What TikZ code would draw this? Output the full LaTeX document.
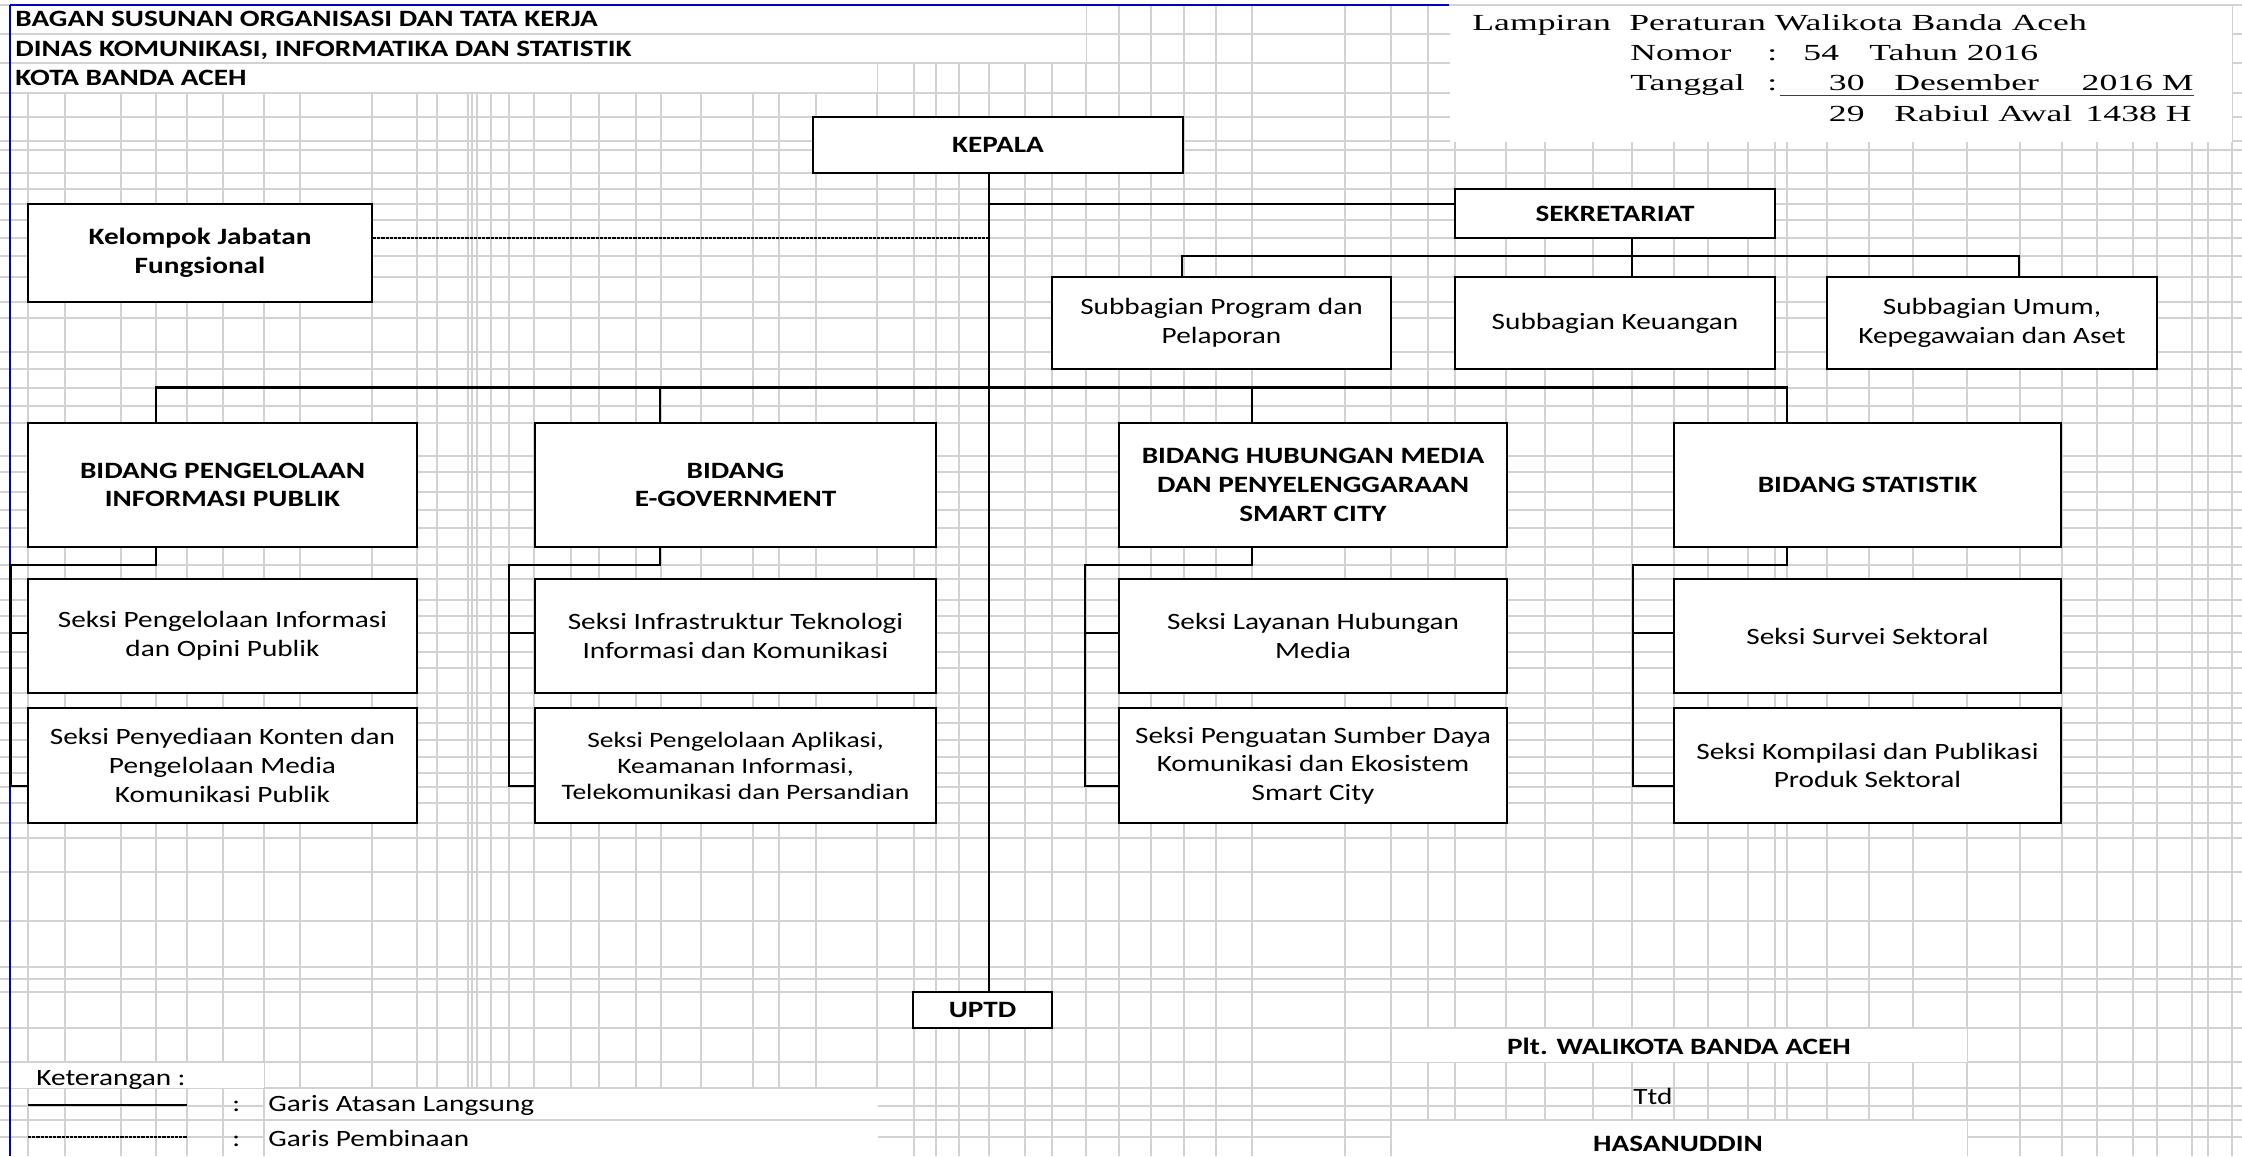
\documentclass[tikz,border=0pt]{standalone}
\usepackage{fontspec}
\setmainfont{Carlito}[FakeStretch=1.25]
\newfontfamily\lampfont{Liberation Serif}[FakeStretch=1.55]
\begin{document}
\begin{tikzpicture}[x=0.5pt,y=-0.5pt,
  every node/.style={font=\fontsize{11.7pt}{14.3pt}\selectfont, inner sep=0pt},
  gridl/.style={gray!35, line width=0.6pt},
  box/.style={draw, fill=white, line width=0.9pt, align=center},
  conn/.style={line width=1.4pt},
  guide/.style={line width=0.8pt, dash pattern=on 1.6pt off 0.5pt},
  lamp/.style={font=\lampfont\fontsize{11.5pt}{14pt}\selectfont, anchor=base west},
  ttl/.style={font=\bfseries\fontsize{11.7pt}{14.3pt}\selectfont, anchor=base west},
  small/.style={font=\fontsize{11pt}{13pt}\selectfont}
]
\useasboundingbox (0,0) rectangle (2242,1156);
\fill[white] (0,0) rectangle (2242,1156);
% ---- spreadsheet grid: columns
\foreach \x in {28,65,121,156,187,223,264,300,372,417,437,468,472,477,491,509,534,571,599,636,661,701,753,779,816,877,914,936,959,989,1025,1052,1086,1119,1151,1184,1216,1252,1345,1391,1428,1455,1506,1545,1593,1632,1674,1708,1748,1775,1787,1827,1869,1913,1967,2020,2062,2097,2133,2157,2192,2208,2232}
  \draw[gridl] (\x,5) -- (\x,1156);
% title cells (no column lines)
\fill[white] (11,6) rectangle (1085.5,62.5);
\fill[white] (11,62.5) rectangle (876.5,92.5);
% rows
\foreach \y in {5,34,63,93,117,141,150,173,189,204,220,238,256,277,302,318,352,369,388,406,423,456,472,492,510,528,547,565,579,600,616,633,652,668,693,708,723,740,757,773,787,803,823,838,872,921,967,979,992,1028,1062,1088,1106,1120,1137}
  \draw[gridl] (0,\y) -- (2242,\y);
% white cells
\fill[white] (1450,6) rectangle (2231.5,141.5);
\fill[white] (11,1062.5) rectangle (263.5,1087.5);
\fill[white] (264.5,1088.5) rectangle (877.5,1156);
\draw[gridl] (264,1120) -- (878,1120);
\fill[white] (1391.5,1028.5) rectangle (1966.5,1061.5);
\fill[white] (1391.5,1120.5) rectangle (1966.5,1156);
% sheet border
\draw[blue!75!black, line width=1pt] (10,5) -- (1449,5);
\draw[blue!75!black, line width=1pt] (10,5) -- (10,1156);

% ---- header texts
\node[ttl] (t1) at (15,26.7) {BAGAN SUSUNAN ORGANISASI DAN TATA KERJA};
\node[ttl] (t2) at (15,56.7) {DINAS KOMUNIKASI, INFORMATIKA DAN STATISTIK};
\node[ttl] (t3) at (15,86) {KOTA BANDA ACEH};

\node[lamp] (l1a) at (1472,30.7) {Lampiran};
\node[lamp] (l1b) at (1629,30.7) {Peraturan Walikota Banda Aceh};
\node[lamp] (l2a) at (1630,60.7) {Nomor};
\node[lamp] (l2b) at (1767,60.7) {:};
\node[lamp] (l2c) at (1803,60.7) {54};
\node[lamp] (l2d) at (1869,60.7) {Tahun 2016};
\node[lamp] (l3a) at (1630,90.7) {Tanggal};
\node[lamp] (l3b) at (1767,90.7) {:};
\node[lamp, anchor=base east] (l3c) at (1865,90.7) {30};
\node[lamp] (l3d) at (1894,90.7) {Desember};
\node[lamp, anchor=base east] (l3e) at (2194,90.7) {2016 M};
\node[lamp, anchor=base east] (l4a) at (1865,121.7) {29};
\node[lamp] (l4b) at (1894,121.7) {Rabiul Awal};
\node[lamp, anchor=base east] (l4c) at (2192,121.7) {1438 H};
\coordinate (ul1) at (1780,95.7);
\coordinate (ul2) at (2194,95.7);
\draw[line width=0.8pt, black!75] (ul1) -- (ul2);

% ---- boxes
\node[box, line width=1.3pt, minimum width=185pt, minimum height=28pt, font=\bfseries\fontsize{11.7pt}{14.3pt}\selectfont] (kepala) at (998,145) {KEPALA};
\node[box, minimum width=172pt, minimum height=49pt, font=\bfseries\fontsize{11.7pt}{14.3pt}\selectfont] (kel) at (200,253) {Kelompok Jabatan\\Fungsional};
\node[box, minimum width=160pt, minimum height=24.5pt, font=\bfseries\fontsize{11.7pt}{14.3pt}\selectfont] (sekre) at (1615,213.5) {SEKRETARIAT};
\node[box, minimum width=169.5pt, minimum height=46pt] (prog) at (1221.5,323) {Subbagian Program dan\\Pelaporan};
\node[box, minimum width=160pt, minimum height=46pt] (keu) at (1615,323) {Subbagian Keuangan};
\node[box, minimum width=165pt, minimum height=46pt] (umum) at (1992,323) {Subbagian Umum,\\Kepegawaian dan Aset};

\node[box, minimum width=194.5pt, minimum height=62pt, font=\bfseries\fontsize{11.7pt}{14.3pt}\selectfont] (peng) at (222.5,485) {BIDANG PENGELOLAAN\\INFORMASI PUBLIK};
\node[box, minimum width=200.5pt, minimum height=62pt, font=\bfseries\fontsize{11.7pt}{14.3pt}\selectfont] (egov) at (735.5,485) {BIDANG\\E-GOVERNMENT};
\node[box, minimum width=194pt, minimum height=62pt, font=\bfseries\fontsize{11.7pt}{14.3pt}\selectfont] (hub) at (1313,485) {BIDANG HUBUNGAN MEDIA\\DAN PENYELENGGARAAN\\SMART CITY};
\node[box, minimum width=193.5pt, minimum height=62pt, font=\bfseries\fontsize{11.7pt}{14.3pt}\selectfont] (stat) at (1867.5,485) {BIDANG STATISTIK};

\node[box, minimum width=194.5pt, minimum height=57pt] (s11) at (222.5,636) {Seksi Pengelolaan Informasi\\dan Opini Publik};
\node[box, minimum width=194.5pt, minimum height=57.5pt] (s12) at (222.5,765.5) {Seksi Penyediaan Konten dan\\Pengelolaan Media\\Komunikasi Publik};
\node[box, minimum width=200.5pt, minimum height=57pt] (s21) at (735.5,636) {Seksi Infrastruktur Teknologi\\Informasi dan Komunikasi};
\node[box, small, minimum width=200.5pt, minimum height=57.5pt] (s22) at (735.5,765.5) {Seksi Pengelolaan Aplikasi,\\Keamanan Informasi,\\Telekomunikasi dan Persandian};
\node[box, minimum width=194pt, minimum height=57pt] (s31) at (1313,636) {Seksi Layanan Hubungan\\Media};
\node[box, minimum width=194pt, minimum height=57.5pt] (s32) at (1313,765.5) {Seksi Penguatan Sumber Daya\\Komunikasi dan Ekosistem\\Smart City};
\node[box, minimum width=193.5pt, minimum height=57pt] (s41) at (1867.5,636) {Seksi Survei Sektoral};
\node[box, minimum width=193.5pt, minimum height=57.5pt] (s42) at (1867.5,765.5) {Seksi Kompilasi dan Publikasi\\Produk Sektoral};

\node[box, minimum width=69.5pt, minimum height=18pt, font=\bfseries\fontsize{11.7pt}{14.3pt}\selectfont] (uptd) at (982.5,1010) {UPTD};

% ---- helper coordinates
\coordinate (tr) at (989,0);
\coordinate (sy) at (0,204);
\coordinate (dy) at (0,238);
\coordinate (sst) at (1632,0);
\coordinate (sbl) at (0,256);
\coordinate (px) at (1182,0);
\coordinate (ux) at (2019,0);
\coordinate (bl) at (0,387.5);
\coordinate (b1) at (156,0);
\coordinate (b2) at (660,0);
\coordinate (b3) at (1252,0);
\coordinate (b4) at (1787,0);
\coordinate (brk) at (0,565);
\coordinate (t1y) at (0,633);
\coordinate (t2y) at (0,786);
\coordinate (k1) at (10.5,0);
\coordinate (k2) at (509,0);
\coordinate (k3) at (1085,0);
\coordinate (k4) at (1633,0);

% ---- connectors
\draw[conn] (kepala.south -| tr) -- (uptd.north -| tr);
\draw[conn] (tr |- sy) -- (sekre.west |- sy);
\draw[guide] (kel.east |- dy) -- (tr |- dy);
\draw[conn] (sekre.south -| sst) -- (keu.north -| sst);
\draw[conn] (prog.north -| px) -- (px |- sbl) -- (ux |- sbl) -- (umum.north -| ux);
\draw[conn] (peng.north -| b1) -- (b1 |- bl) -- (b4 |- bl) -- (stat.north -| b4);
\draw[conn] (egov.north -| b2) -- (b2 |- bl);
\draw[conn] (hub.north -| b3) -- (b3 |- bl);

\draw[conn] (peng.south -| b1) -- (b1 |- brk) -- (k1 |- brk) -- (k1 |- t2y) -- (s12.west |- t2y);
\draw[conn] (k1 |- t1y) -- (s11.west |- t1y);
\draw[conn] (egov.south -| b2) -- (b2 |- brk) -- (k2 |- brk) -- (k2 |- t2y) -- (s22.west |- t2y);
\draw[conn] (k2 |- t1y) -- (s21.west |- t1y);
\draw[conn] (hub.south -| b3) -- (b3 |- brk) -- (k3 |- brk) -- (k3 |- t2y) -- (s32.west |- t2y);
\draw[conn] (k3 |- t1y) -- (s31.west |- t1y);
\draw[conn] (stat.south -| b4) -- (b4 |- brk) -- (k4 |- brk) -- (k4 |- t2y) -- (s42.west |- t2y);
\draw[conn] (k4 |- t1y) -- (s41.west |- t1y);

% ---- legend
\node[anchor=base west] (ket) at (36,1085) {Keterangan :};
\coordinate (lg1a) at (28,1105);
\coordinate (lg1b) at (187,1105);
\coordinate (lg2a) at (28,1136.7);
\coordinate (lg2b) at (187,1136.7);
\draw[line width=1.1pt] (lg1a) -- (lg1b);
\draw[guide] (lg2a) -- (lg2b);
\node[anchor=base west] (c1) at (232,1111.7) {:};
\node[anchor=base west] (g1) at (268,1111.7) {Garis Atasan Langsung};
\node[anchor=base west] (c2) at (232,1146.7) {:};
\node[anchor=base west] (g2) at (268,1146.7) {Garis Pembinaan};

% ---- signature
\node[anchor=base, font=\bfseries\fontsize{11.7pt}{14.3pt}\selectfont] (plt) at (1679,1054) {Plt. WALIKOTA BANDA ACEH};
\node[anchor=base] (ttd) at (1653,1104) {Ttd};
\node[anchor=base, font=\bfseries\fontsize{11.7pt}{14.3pt}\selectfont] (nama) at (1678,1151.7) {HASANUDDIN};
\end{tikzpicture}
\end{document}
